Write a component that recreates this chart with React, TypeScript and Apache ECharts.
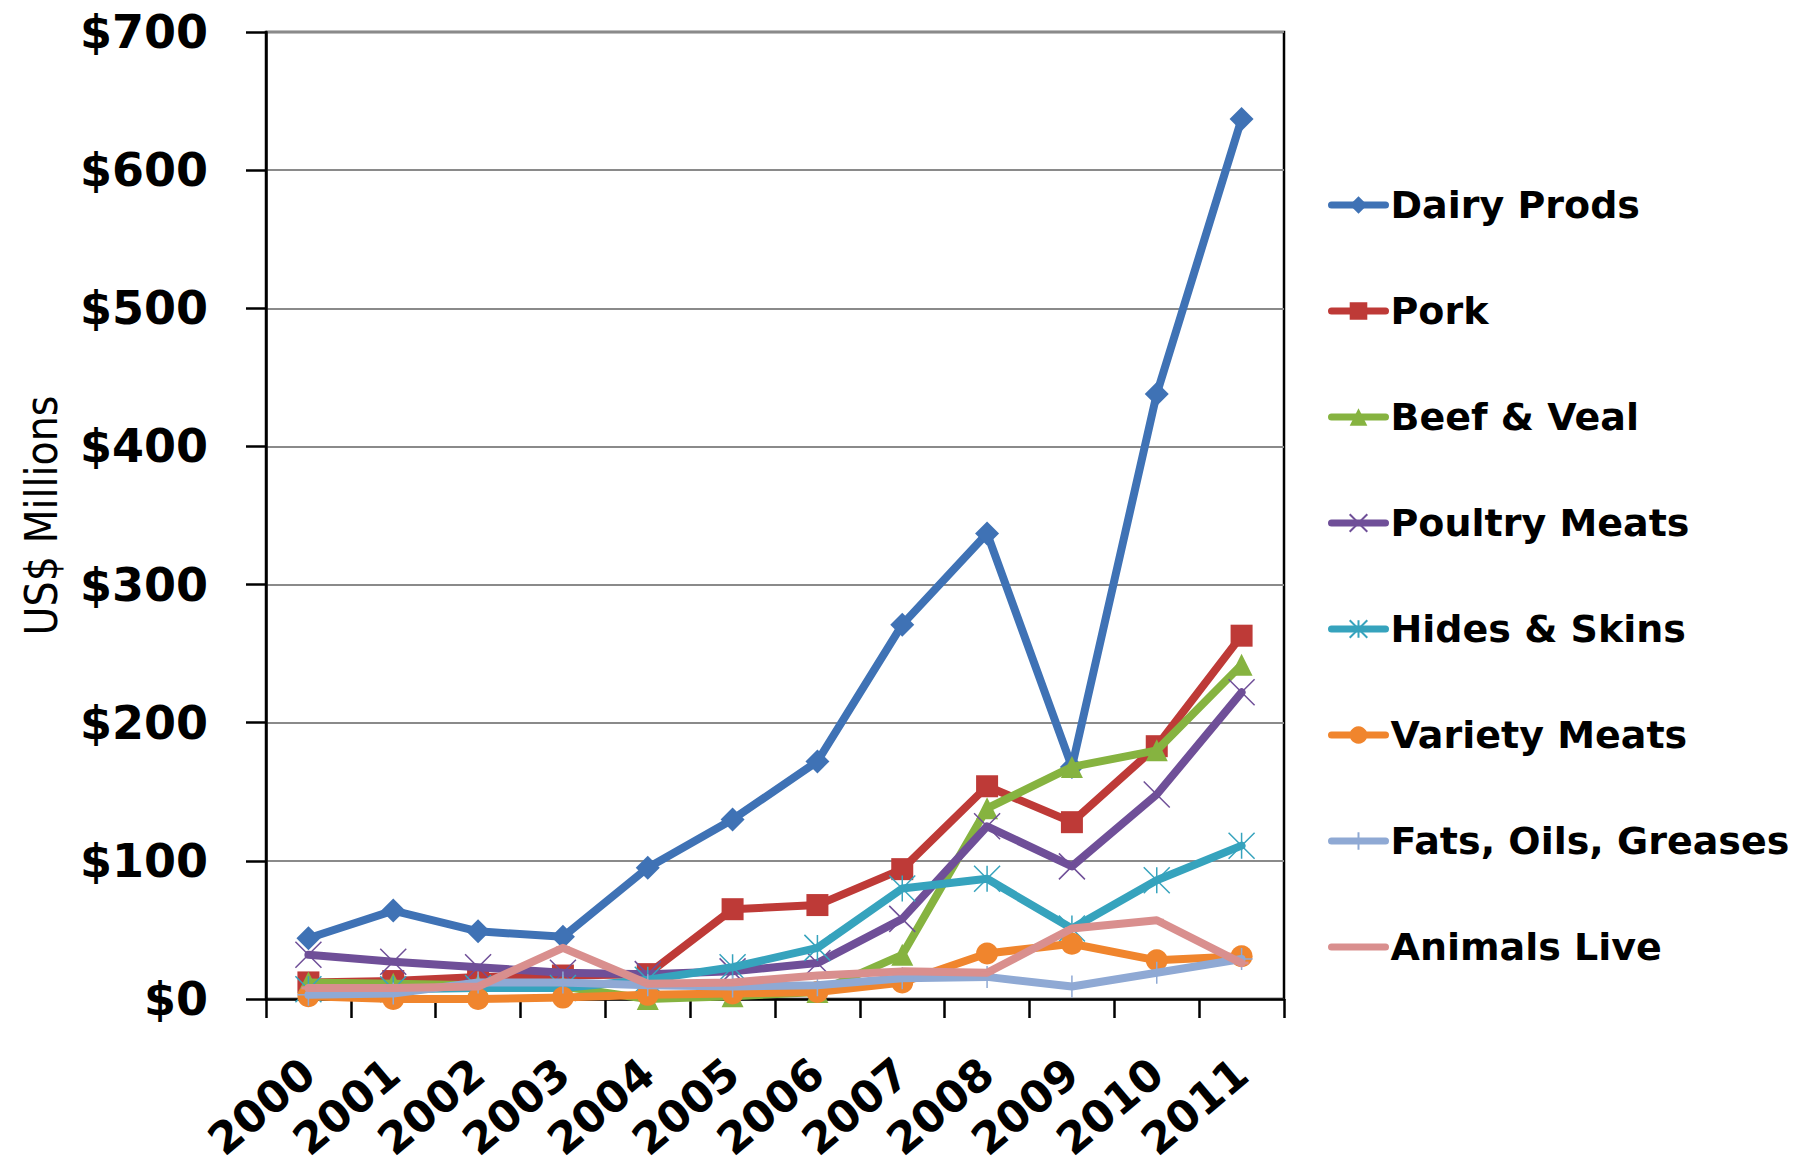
import React, { useEffect, useRef } from "react";
import * as echarts from "echarts";

const years = ["2000", "2001", "2002", "2003", "2004", "2005", "2006", "2007", "2008", "2009", "2010", "2011"];
const yTicks = [0, 100, 200, 300, 400, 500, 600, 700];

const dairyProds = [44, 64, 49, 45, 95, 130, 172, 271, 337, 168, 438, 637];
const pork = [12, 13, 16, 17, 18, 65, 68, 94, 154, 128, 183, 263];
const beefVeal = [12, 11, 10, 9, 0, 2, 5, 32, 138, 168, 180, 242];
const poultryMeats = [32, 27, 23, 19, 18, 20, 26, 58, 125, 96, 148, 222];
const hidesSkins = [7, 7, 8, 8, 14, 23, 37, 80, 87, 51, 86, 111];
const varietyMeats = [2, 0, 0, 1, 3, 4, 5, 12, 33, 40, 28, 31];
const fatsOils = [3, 4, 12, 12, 10, 9, 10, 15, 16, 9, 19, 29];
const animalsLive = [8, 8, 9, 37, 11, 12, 17, 20, 19, 51, 57, 26];

const seriesNames = [
  "Dairy Prods",
  "Pork",
  "Beef & Veal",
  "Poultry Meats",
  "Hides & Skins",
  "Variety Meats",
  "Fats, Oils, Greases",
  "Animals Live",
];
const seriesData = [dairyProds, pork, beefVeal, poultryMeats, hidesSkins, varietyMeats, fatsOils, animalsLive];
const colors = ["#3f72b5", "#be3a37", "#86b340", "#6f4f98", "#36a3bd", "#f0852d", "#8fa9d4", "#d98f8e"];
const symbols = [
  "diamond",
  "rect",
  "triangle",
  "path://M0,0L10,10M10,0L0,10",
  "path://M0,0L10,10M10,0L0,10M5,0L5,10",
  "circle",
  "path://M5,0L5,10M0,5L10,5",
  "path://M0,0L10,0L10,1L0,1Z",
];
const symbolSizes = [24, 22, 22, 26, 26, 22, 22, [14, 3]];

const FONT = '"DejaVu Sans", Verdana, sans-serif';

export default function App() {
  const ref = useRef<HTMLDivElement>(null);

  useEffect(() => {
    if (!ref.current) return;
    const chart = echarts.init(ref.current, undefined, { renderer: "svg" });
    const series = seriesNames.map((name, i) => {
      const isPath = symbols[i].startsWith("path://");
      const isStroke = isPath && i !== 7;
      return {
        name,
        type: "line",
        data: seriesData[i],
        symbol: symbols[i],
        symbolSize: symbolSizes[i],
        lineStyle: { color: colors[i], width: 8, cap: "round", join: "round" },
        itemStyle: isStroke
          ? { color: colors[i], borderColor: colors[i], borderWidth: 1.5 }
          : { color: colors[i], borderWidth: 0 },
        emphasis: { disabled: true },
        z: 2 + i,
      };
    });

    const legendData = seriesNames.map((name, i) =>
      i === 7 ? { name, itemStyle: { opacity: 0 } } : { name }
    );

    chart.setOption({
      animation: false,
      backgroundColor: "#ffffff",
      grid: {
        left: 266,
        right: 520,
        top: 32,
        bottom: 176,
        show: true,
        borderColor: "#000000",
        borderWidth: 2.5,
        backgroundColor: "transparent",
      },
      legend: {
        orient: "vertical",
        left: 1323,
        top: 177,
        itemWidth: 54,
        itemHeight: 22,
        itemGap: 60,
        lineStyle: { width: 7, cap: "round" },
        textStyle: {
          fontFamily: FONT,
          fontWeight: "bold",
          fontSize: 38,
          color: "#000000",
          lineHeight: 46,
        },
        data: legendData,
      },
      xAxis: {
        type: "category",
        data: years,
        boundaryGap: true,
        axisLine: { show: true, lineStyle: { color: "#000000", width: 2.5 } },
        axisTick: { show: true, inside: false, length: 19, lineStyle: { color: "#000000", width: 2.5 } },
        axisLabel: {
          rotate: 40,
          margin: 68,
          fontFamily: FONT,
          fontWeight: "bold",
          fontSize: 44,
          color: "#000000",
          interval: 0,
        },
        splitLine: { show: false },
      },
      yAxis: {
        type: "value",
        min: 0,
        max: 700,
        interval: 100,
        name: "US$ Millions",
        nameLocation: "middle",
        nameRotate: 90,
        nameGap: 203,
        nameTextStyle: {
          fontFamily: '"DejaVu Sans Condensed", "Liberation Sans Narrow", sans-serif',
          fontSize: 44,
          color: "#000000",
        },
        axisLine: { show: true, lineStyle: { color: "#000000", width: 2.5 } },
        axisTick: { show: true, inside: false, length: 20, lineStyle: { color: "#000000", width: 2.5 } },
        axisLabel: {
          margin: 58,
          fontFamily: FONT,
          fontWeight: "bold",
          fontSize: 46,
          color: "#000000",
          formatter: (v: number) => (yTicks.includes(v) ? "$" + v : ""),
        },
        splitLine: { show: true, lineStyle: { color: "#8a8a8a", width: 2 } },
      },
      series,
    });

    return () => chart.dispose();
  }, []);

  return (
    <div
      ref={ref}
      style={{ position: "absolute", left: 0, top: 0, width: 1804, height: 1175, background: "#fff" }}
    />
  );
}
